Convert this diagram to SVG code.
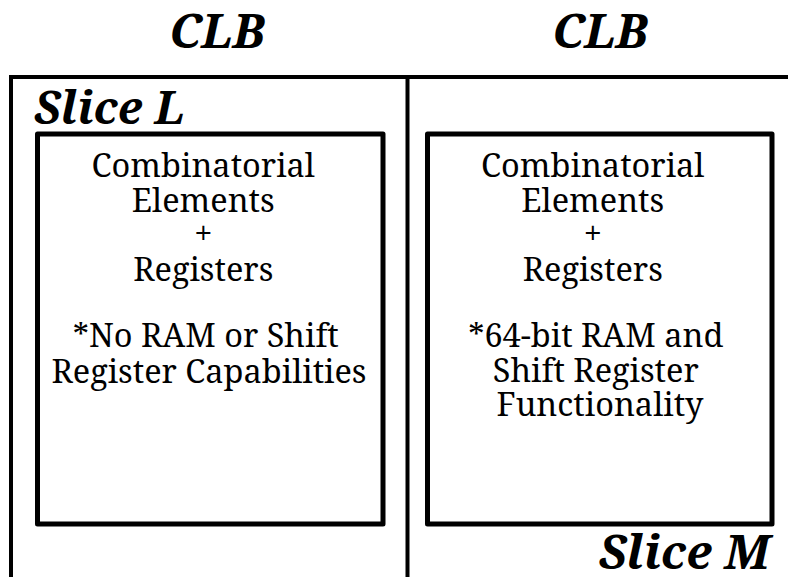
<svg xmlns="http://www.w3.org/2000/svg" width="788" height="577" viewBox="0 0 788 577">
<style>
  .frame { fill: none; stroke: #000; stroke-width: 4; }
  .box { fill: none; stroke: #000; stroke-width: 5; stroke-linejoin: round; }
  .title { font-family: "Noto Serif", "DejaVu Serif", serif; font-weight: bold; font-style: italic; fill: #000; }
  .body { font-family: "Noto Serif", "DejaVu Serif", serif; font-size: 32.5px; fill: #000; text-anchor: middle; }
</style>
<rect width="788" height="577" fill="#fff"/>
<g id="frame">
  <path class="frame" d="M11 577 V77 H788 M407.5 77 V577"/>
</g>
<g id="clb-labels">
  <text class="title" x="217" y="48" font-size="48" text-anchor="middle">CLB</text>
  <text class="title" x="600" y="48" font-size="48" text-anchor="middle">CLB</text>
</g>
<g id="slice-l">
  <text class="title" x="34" y="124" font-size="46">Slice L</text>
  <rect class="box" x="37.5" y="134" width="345.5" height="390"/>
  <text class="body">
    <tspan x="207.5" y="177">Combinatorial</tspan>
    <tspan x="207.5" y="212">Elements</tspan>
    <tspan x="207.5" y="245">+</tspan>
    <tspan x="207.5" y="281">Registers</tspan>
    <tspan x="210" y="347">*No RAM or Shift</tspan>
    <tspan x="209" y="383">Register Capabilities</tspan>
  </text>
</g>
<g id="slice-m">
  <rect class="box" x="427.5" y="134" width="344.5" height="390"/>
  <text class="body">
    <tspan x="597" y="177">Combinatorial</tspan>
    <tspan x="597" y="212">Elements</tspan>
    <tspan x="597" y="245">+</tspan>
    <tspan x="597" y="281">Registers</tspan>
    <tspan x="600" y="347">*64-bit RAM and</tspan>
    <tspan x="600" y="382">Shift Register</tspan>
    <tspan x="600" y="416">Functionality</tspan>
  </text>
  <text class="title" x="770" y="569" font-size="48" text-anchor="end">Slice M</text>
</g>
<g id="connectors"></g>
</svg>
